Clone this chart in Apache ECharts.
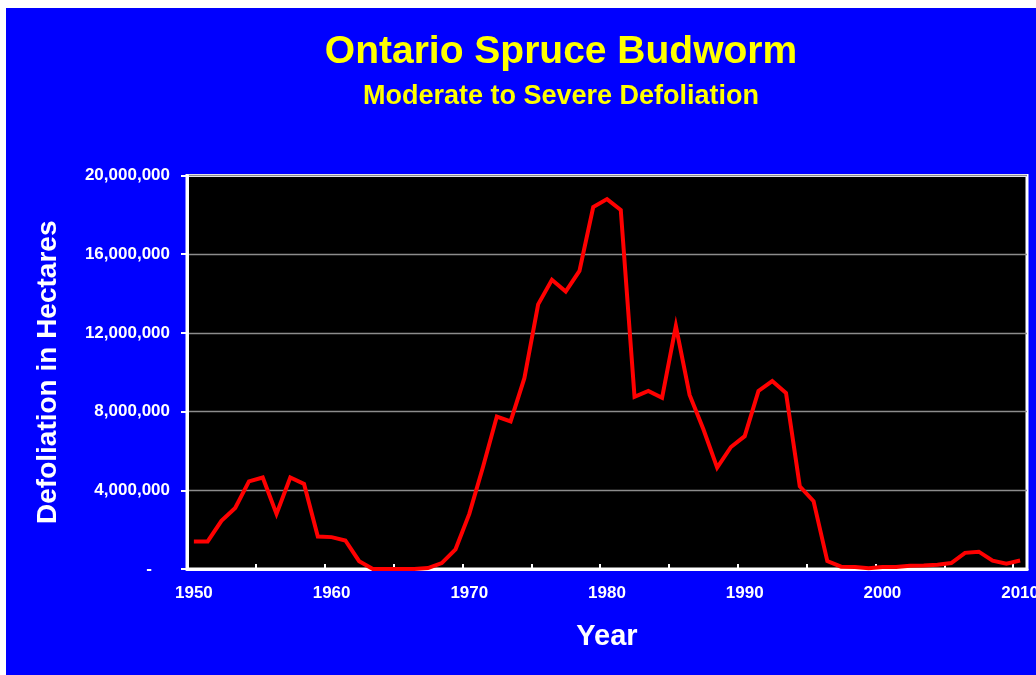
<!DOCTYPE html>
<html>
<head>
<meta charset="utf-8">
<title>Ontario Spruce Budworm</title>
<script src="https://cdn.jsdelivr.net/npm/echarts@6/dist/echarts.min.js"></script>
<style>
  html, body { margin: 0; padding: 0; background: #ffffff; width: 1036px; height: 675px; overflow: hidden; }
  #chart { position: absolute; left: 6px; top: 8px; width: 1030px; height: 667px; }
</style>
</head>
<body>
<div id="chart"></div>
<script>
// Year categories, 1950-2010
const years = [];
for (let y = 1950; y <= 2010; y++) years.push(String(y));

// Moderate-to-severe defoliation, hectares (millions), one value per year
const defoliationMillions = [
  1.40, 1.40, 2.45, 3.10, 4.45, 4.65, 2.80, 4.65, 4.32, 1.65,   // 1950-1959
  1.62, 1.45, 0.40, 0.00, 0.00, 0.00, 0.00, 0.05, 0.30, 1.00,   // 1960-1969
  2.80, 5.20, 7.75, 7.50, 9.70, 13.45, 14.70, 14.10, 15.15, 18.40, // 1970-1979
  18.80, 18.25, 8.75, 9.05, 8.70, 12.35, 8.85, 7.10, 5.15, 6.20, // 1980-1989
  6.75, 9.05, 9.55, 8.95, 4.20, 3.45, 0.40, 0.12, 0.10, 0.04,   // 1990-1999
  0.10, 0.10, 0.17, 0.18, 0.22, 0.30, 0.82, 0.88, 0.42, 0.27,   // 2000-2009
  0.43                                                          // 2010
];
const defoliation = defoliationMillions.map(v => Math.round(v * 1e6));

// Y axis scale
const yMin = 0;
const yMax = 20000000;
const yStep = 4000000;

const FONT = '"Liberation Sans", Arial, Helvetica, sans-serif';

const chart = echarts.init(document.getElementById('chart'), null, {
  renderer: 'canvas', width: 1030, height: 667
});

chart.setOption({
  backgroundColor: '#0000FF',
  animation: false,
  graphic: [
    {
      type: 'text', x: 555, y: 44,
      style: {
        text: 'Ontario Spruce Budworm',
        fill: '#FFFF00',
        font: 'bold 39px ' + FONT,
        textAlign: 'center', textVerticalAlign: 'middle'
      }
    },
    {
      type: 'text', x: 555, y: 89,
      style: {
        text: 'Moderate to Severe Defoliation',
        fill: '#FFFF00',
        font: 'bold 27px ' + FONT,
        textAlign: 'center', textVerticalAlign: 'middle'
      }
    }
  ],
  grid: {
    left: 181, right: 9, top: 167.5, bottom: 106,
    outerBoundsMode: 'none',
    show: true,
    backgroundColor: '#000000',
    borderColor: '#FFFFFF',
    borderWidth: 3,
    containLabel: false
  },
  xAxis: {
    type: 'category',
    data: years,
    boundaryGap: true,
    name: 'Year',
    nameLocation: 'middle',
    nameGap: 53,
    nameTextStyle: { color: '#FFFFFF', fontFamily: FONT, fontWeight: 'bold', fontSize: 29 },
    axisLine: { show: true, lineStyle: { color: '#FFFFFF', width: 3 } },
    axisTick: { show: true, inside: true, interval: 4, length: 5, alignWithLabel: false,
                lineStyle: { color: '#FFFFFF', width: 2 } },
    axisLabel: { interval: 9, margin: 16, color: '#FFFFFF', fontFamily: FONT, fontWeight: 'bold', fontSize: 17 },
    splitLine: { show: false }
  },
  yAxis: {
    type: 'value',
    min: yMin, max: yMax, interval: yStep,
    name: 'Defoliation in Hectares',
    nameLocation: 'middle',
    nameGap: 125,
    nameRotate: 90,
    nameTextStyle: { color: '#FFFFFF', fontFamily: FONT, fontWeight: 'bold', fontSize: 28 },
    axisLine: { show: true, lineStyle: { color: '#FFFFFF', width: 3 } },
    axisTick: { show: true, inside: false, length: 6, lineStyle: { color: '#FFFFFF', width: 2 } },
    axisLabel: {
      margin: 17,
      color: '#FFFFFF', fontFamily: FONT, fontWeight: 'bold', fontSize: 17,
      formatter: v => v === 0 ? '{z|-}' : v.toLocaleString('en-US'),
      rich: { z: { color: '#FFFFFF', fontFamily: FONT, fontWeight: 'bold', fontSize: 17, padding: [0, 18, 0, 0] } }
    },
    splitLine: { show: true, lineStyle: { color: '#8C8C8C', width: 1.3 } }
  },
  series: [{
    type: 'line',
    data: defoliation,
    symbol: 'none',
    smooth: false,
    lineStyle: { color: '#FF0000', width: 4, join: 'miter' },
    z: 3
  }]
});
</script>
</body>
</html>
